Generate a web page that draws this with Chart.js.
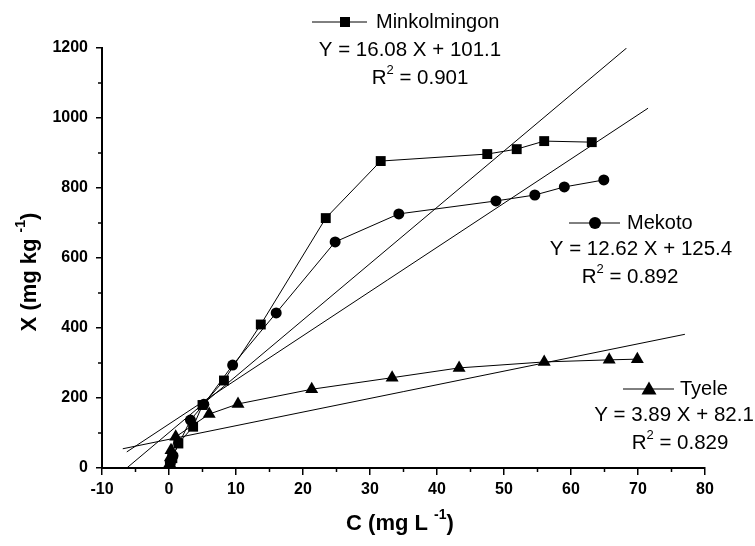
<!DOCTYPE html>
<html>
<head>
<meta charset="utf-8">
<script src="https://cdn.jsdelivr.net/npm/chart.js@4/dist/chart.umd.min.js"></script>
<style>
  html, body { margin: 0; padding: 0; background: #fff; }
  #wrap { width: 755px; height: 546px; }
</style>
</head>
<body>
<div id="wrap"><canvas id="isoChart" width="755" height="546"></canvas></div>
<script>
// --- DATA ---
const minkC = [0.2, 0.5, 1.4, 3.6, 5.0, 8.2, 13.7, 23.4, 31.6, 47.5, 51.9, 56.0, 63.1];
const minkX = [10, 28, 70, 118, 180, 250, 410, 714, 877, 897, 911, 934, 931];

const mekoC = [0.2, 0.6, 3.2, 5.2, 9.5, 16.0, 24.8, 34.3, 48.8, 54.6, 59.0, 64.9];
const mekoX = [15, 35, 137, 182, 294, 443, 646, 726, 763, 780, 803, 823];

const tyeleC = [0.1, 0.2, 0.3, 1.0, 6.0, 10.3, 21.3, 33.3, 43.3, 56.0, 65.7, 69.9];
const tyeleX = [12, 30, 51, 89, 154, 183, 225, 258, 286, 303, 309, 311];

// fitted lines, end points
const minkFitC = [-6.3, 68.3];
const minkFitX = [0, 1200];
const mekoFitC = [-6.3, 71.5];
const mekoFitX = [46, 1028];
const tyeleFitC = [-6.9, 77.0];
const tyeleFitX = [55, 382];

const FONT = "'Liberation Sans', Arial, Helvetica, sans-serif";

function pts(xs, ys) {
  return xs.map((x, i) => ({ x: x, y: ys[i] }));
}

function series(label, xs, ys, shape, r) {
  return {
    label: label,
    data: pts(xs, ys),
    showLine: true,
    borderColor: '#000',
    borderWidth: 1,
    backgroundColor: '#000',
    pointStyle: shape,
    pointRadius: r,
    pointBorderWidth: 0,
    pointBackgroundColor: '#000'
  };
}

function fitLine(xs, ys) {
  return {
    data: pts(xs, ys),
    showLine: true,
    borderColor: '#000',
    borderWidth: 1,
    pointRadius: 0
  };
}

// draw text with superscript pieces
function richText(c, parts, x, y, align, size, bold) {
  const base = (bold ? 'bold ' : '') + size + 'px ' + FONT;
  const small = (bold ? 'bold ' : '') + Math.round(size * 0.62) + 'px ' + FONT;
  let w = 0;
  parts.forEach(p => { c.font = p.sup ? small : base; w += c.measureText(p.t).width; });
  let cx = align === 'center' ? x - w / 2 : (align === 'right' ? x - w : x);
  c.textAlign = 'left';
  c.textBaseline = 'middle';
  parts.forEach(p => {
    c.font = p.sup ? small : base;
    c.fillText(p.t, cx, p.sup ? y - size * 0.38 : y);
    cx += c.measureText(p.t).width;
  });
}

function legendMark(c, shape, x, y, x0, x1) {
  c.strokeStyle = '#000';
  c.lineWidth = 1;
  c.beginPath(); c.moveTo(x0, y); c.lineTo(x1, y); c.stroke();
  c.fillStyle = '#000';
  c.beginPath();
  if (shape === 'rect') {
    c.rect(x - 5, y - 5, 10, 10);
  } else if (shape === 'circle') {
    c.arc(x, y, 6, 0, Math.PI * 2);
  } else {
    c.moveTo(x, y - 7.5); c.lineTo(x + 7.5, y + 5.5); c.lineTo(x - 7.5, y + 5.5); c.closePath();
  }
  c.fill();
}

// --- ANNOTATIONS, TITLES, MINOR TICKS ---
const extras = {
  id: 'extras',
  afterDraw(chart) {
    const c = chart.ctx;
    const xs = chart.scales.x, ys = chart.scales.y;
    const area = chart.chartArea;
    c.save();
    c.strokeStyle = '#000';
    c.lineWidth = 1.5;
    // minor ticks
    for (let v = 100; v < 1200; v += 200) {
      const py = ys.getPixelForValue(v);
      c.beginPath(); c.moveTo(area.left - 4, py); c.lineTo(area.left, py); c.stroke();
    }
    for (let v = -5; v < 80; v += 10) {
      const px = xs.getPixelForValue(v);
      c.beginPath(); c.moveTo(px, area.bottom); c.lineTo(px, area.bottom + 4); c.stroke();
    }

    c.fillStyle = '#000';
    // axis titles
    richText(c, [{ t: 'C (mg L ' }, { t: '-1', sup: true }, { t: ')' }], 400, 524, 'center', 22, true);
    c.save();
    c.translate(30, 272);
    c.rotate(-Math.PI / 2);
    richText(c, [{ t: 'X (mg kg ' }, { t: '-1', sup: true }, { t: ')' }], 0, 0, 'center', 22, true);
    c.restore();

    // Minkolmingon block
    legendMark(c, 'rect', 345, 22, 312, 367);
    c.fillStyle = '#000';
    richText(c, [{ t: 'Minkolmingon' }], 376, 22, 'left', 20, false);
    richText(c, [{ t: 'Y = 16.08 X + 101.1' }], 410, 50, 'center', 20.5, false);
    richText(c, [{ t: 'R' }, { t: '2', sup: true }, { t: ' = 0.901' }], 420, 78, 'center', 20.5, false);

    // Mekoto block
    legendMark(c, 'circle', 595, 223, 569, 620);
    c.fillStyle = '#000';
    richText(c, [{ t: 'Mekoto' }], 627, 223, 'left', 20, false);
    richText(c, [{ t: 'Y = 12.62 X + 125.4' }], 641, 249, 'center', 20.5, false);
    richText(c, [{ t: 'R' }, { t: '2', sup: true }, { t: ' = 0.892' }], 630, 277, 'center', 20.5, false);

    // Tyele block
    legendMark(c, 'triangle', 649, 389, 623, 674);
    c.fillStyle = '#000';
    richText(c, [{ t: 'Tyele' }], 680, 389, 'left', 20, false);
    richText(c, [{ t: 'Y = 3.89 X + 82.1' }], 674, 415, 'center', 20.5, false);
    richText(c, [{ t: 'R' }, { t: '2', sup: true }, { t: ' = 0.829' }], 680, 443, 'center', 20.5, false);
    c.restore();
  }
};

// --- CHART ---
const ctx = document.getElementById('isoChart');
new Chart(ctx, {
  type: 'scatter',
  data: {
    datasets: [
      fitLine(minkFitC, minkFitX),
      fitLine(mekoFitC, mekoFitX),
      fitLine(tyeleFitC, tyeleFitX),
      series('Minkolmingon', minkC, minkX, 'rect', 7),
      series('Mekoto', mekoC, mekoX, 'circle', 5.5),
      series('Tyele', tyeleC, tyeleX, 'triangle', 7.5)
    ]
  },
  options: {
    responsive: false,
    animation: false,
    devicePixelRatio: 1,
    layout: { padding: { left: 0, top: 48, right: 50, bottom: 0 } },
    plugins: {
      legend: { display: false },
      tooltip: { enabled: false }
    },
    scales: {
      x: {
        type: 'linear',
        min: -10, max: 80,
        afterFit: s => { s.height = 78; },
        border: { display: true, color: '#000', width: 2 },
        grid: { display: true, drawOnChartArea: false, drawTicks: true, tickLength: 7, color: '#000', lineWidth: 1.5 },
        ticks: { stepSize: 10, color: '#000', padding: 5, maxRotation: 0, font: { family: FONT, size: 16, weight: 'bold' } }
      },
      y: {
        type: 'linear',
        min: 0, max: 1200,
        afterFit: s => { s.width = 102; },
        border: { display: true, color: '#000', width: 2 },
        grid: { display: true, drawOnChartArea: false, drawTicks: true, tickLength: 6, color: '#000', lineWidth: 1.5 },
        ticks: { stepSize: 200, color: '#000', padding: 8, callback: v => String(v), font: { family: FONT, size: 16, weight: 'bold' } }
      }
    }
  },
  plugins: [extras]
});
</script>
</body>
</html>
